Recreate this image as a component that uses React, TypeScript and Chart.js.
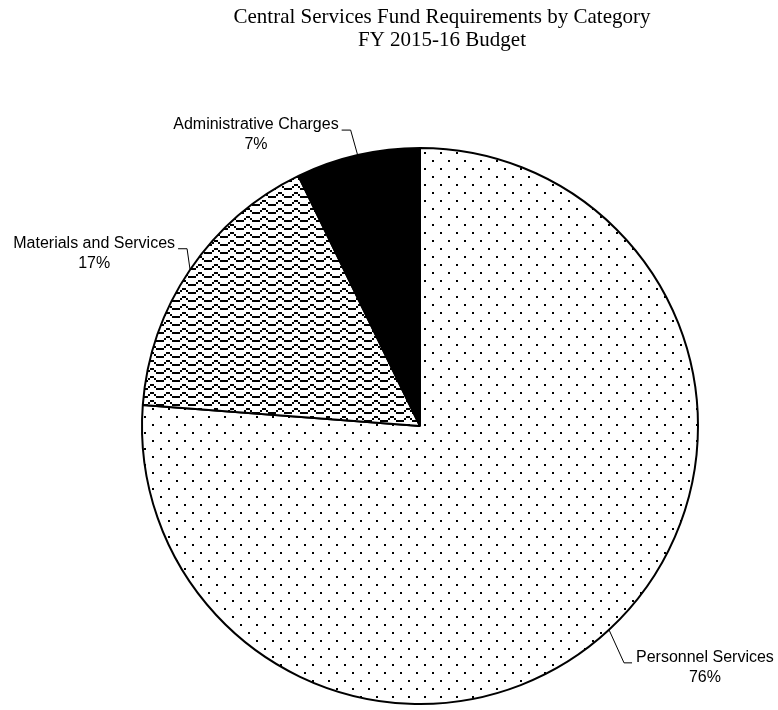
import React, { useEffect, useRef } from 'react';
import { Chart, registerables } from 'chart.js';

Chart.register(...registerables);

const categories = ['Personnel Services', 'Materials and Services', 'Administrative Charges'];
const shares = [76.2, 16.6, 7.2];
const titleLines = ['Central Services Fund Requirements by Category', 'FY 2015-16 Budget'];

function dotPattern(ctx: CanvasRenderingContext2D): CanvasPattern | string {
  const c = document.createElement('canvas');
  c.width = 16;
  c.height = 16;
  const g = c.getContext('2d');
  if (!g) return '#fff';
  g.fillStyle = '#fff';
  g.fillRect(0, 0, 16, 16);
  g.fillStyle = '#000';
  g.fillRect(0, 0, 2, 2);
  g.fillRect(8, 8, 2, 2);
  return ctx.createPattern(c, 'repeat') || '#fff';
}

function wavePattern(ctx: CanvasRenderingContext2D): CanvasPattern | string {
  const bits = [
    '...XX...',
    '..X..X..',
    'XX....XX',
    '........',
  ];
  const c = document.createElement('canvas');
  c.width = 16;
  c.height = 8;
  const g = c.getContext('2d');
  if (!g) return '#fff';
  g.fillStyle = '#fff';
  g.fillRect(0, 0, 16, 8);
  g.fillStyle = '#000';
  bits.forEach((row, r) => {
    for (let k = 0; k < row.length; k++) {
      if (row[k] === 'X') g.fillRect(k * 2, r * 2, 2, 2);
    }
  });
  return ctx.createPattern(c, 'repeat') || '#fff';
}

type LabelLayout = { elbow: [number, number]; tail: number; side: 'left' | 'right' };
const labelLayout: LabelLayout[] = [
  { elbow: [15, 33], tail: 8, side: 'right' },
  { elbow: [-3, -21], tail: -9, side: 'left' },
  { elbow: [-7, -25], tail: -9, side: 'left' },
];

const labelsPlugin = {
  id: 'pieLabels',
  afterDatasetsDraw(chart: any) {
    const ctx: CanvasRenderingContext2D = chart.ctx;
    const meta = chart.getDatasetMeta(0);
    const data: number[] = chart.data.datasets[0].data;
    const total = data.reduce((a, b) => a + b, 0);
    ctx.save();
    ctx.strokeStyle = '#000';
    ctx.lineWidth = 1;
    ctx.fillStyle = '#000';
    ctx.font = '16px "Liberation Sans", Arial, sans-serif';
    ctx.textBaseline = 'middle';
    ctx.textAlign = 'center';
    meta.data.forEach((arc: any, i: number) => {
      const p = arc.getProps(['x', 'y', 'startAngle', 'endAngle', 'outerRadius'], true);
      const mid = (p.startAngle + p.endAngle) / 2;
      const ax = p.x + Math.cos(mid) * p.outerRadius;
      const ay = p.y + Math.sin(mid) * p.outerRadius;
      const L = labelLayout[i];
      const ex = ax + L.elbow[0];
      const ey = ay + L.elbow[1];
      const hx = ex + L.tail;
      ctx.beginPath();
      ctx.moveTo(ax, ay);
      ctx.lineTo(ex, ey);
      ctx.lineTo(hx, ey);
      ctx.stroke();
      const line1 = categories[i];
      const line2 = Math.round((data[i] / total) * 100) + '%';
      const w = ctx.measureText(line1).width;
      const cx = L.side === 'right' ? hx + 4 + w / 2 : hx - 3 - w / 2;
      ctx.fillText(line1, cx, ey - 5);
      ctx.fillText(line2, cx, ey + 15);
    });
    ctx.restore();
  },
  afterDraw(chart: any) {
    const ctx: CanvasRenderingContext2D = chart.ctx;
    ctx.save();
    ctx.fillStyle = '#000';
    ctx.font = '21px "Liberation Serif", "Times New Roman", serif';
    ctx.textAlign = 'center';
    ctx.textBaseline = 'alphabetic';
    ctx.fillText(titleLines[0], 442, 23);
    ctx.fillText(titleLines[1], 442, 46);
    ctx.restore();
  },
};

export default function App() {
  const ref = useRef<HTMLCanvasElement | null>(null);
  useEffect(() => {
    const canvas = ref.current;
    if (!canvas) return;
    const ctx = canvas.getContext('2d');
    if (!ctx) return;
    const chart = new Chart(ctx, {
      type: 'pie',
      data: {
        labels: categories,
        datasets: [
          {
            data: shares,
            backgroundColor: [dotPattern(ctx), wavePattern(ctx), '#000'],
            borderColor: '#000',
            borderWidth: 2,
          },
        ],
      },
      options: {
        responsive: false,
        animation: false,
        devicePixelRatio: 1,
        radius: 278,
        layout: { padding: { left: 62, right: 0, top: 142, bottom: 0 } },
        plugins: {
          legend: { display: false },
          tooltip: { enabled: false },
          title: { display: false },
        },
      } as any,
      plugins: [labelsPlugin],
    });
    return () => chart.destroy();
  }, []);
  return (
    <div style={{ position: 'absolute', left: 0, top: 0, width: 778, height: 710, background: '#fff' }}>
      <canvas ref={ref} width={778} height={710} style={{ display: 'block' }} />
    </div>
  );
}
